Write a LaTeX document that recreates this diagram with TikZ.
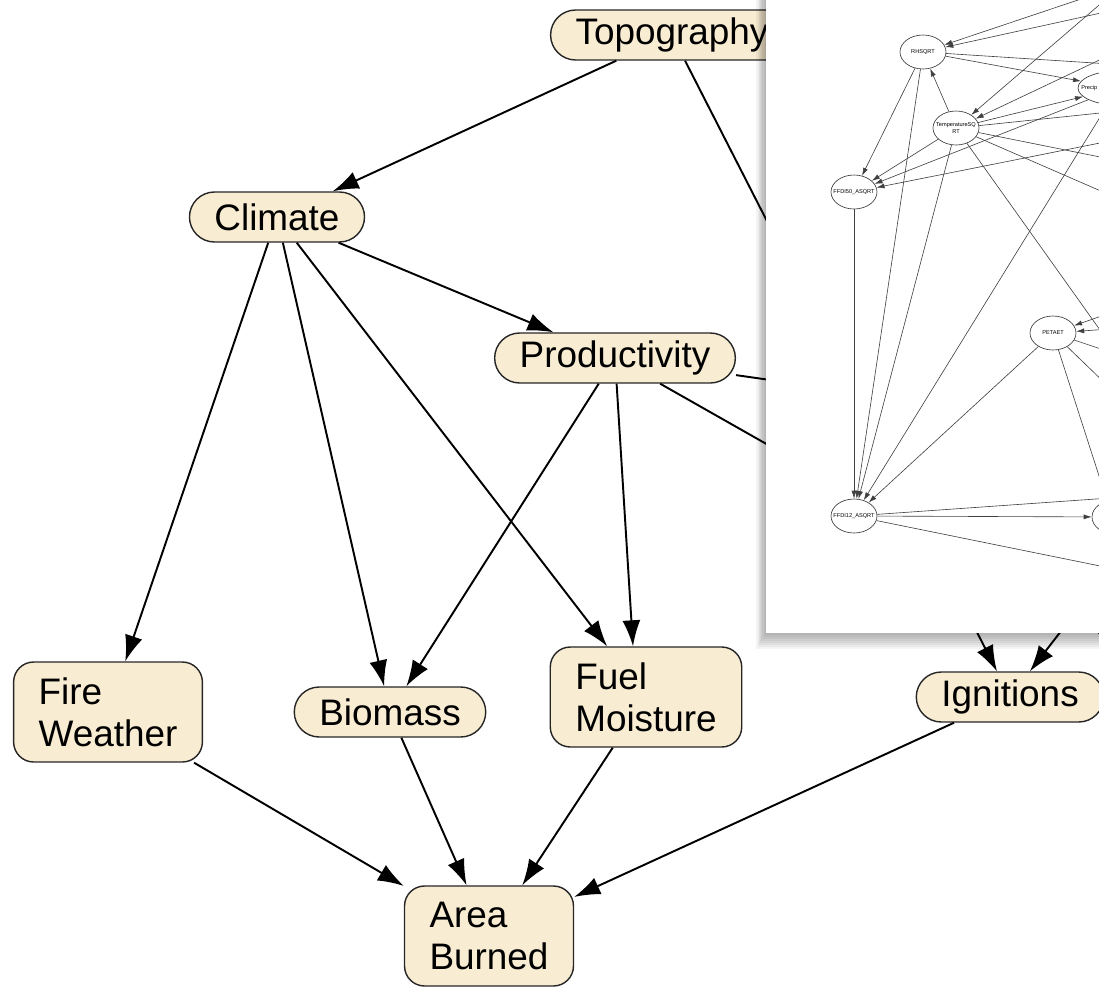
\documentclass[tikz,border=0pt]{standalone}
\usepackage{fontspec}
\setmainfont{Liberation Sans}
\usetikzlibrary{arrows.meta,shapes.geometric}

\definecolor{nodefill}{RGB}{248,236,210}

\tikzset{
  pill/.style={draw=black!85, line width=0.8pt, fill=nodefill, rounded corners=0.5cm,
    minimum height=1cm, inner xsep=0.5cm, inner ysep=0pt, font=\fontsize{21}{24}\selectfont},
  box/.style={pill, rounded corners=0.4cm, align=left, minimum height=2cm},
  link/.style={line width=1.1pt, -{Latex[length=0.52cm,width=0.36cm]}},
  gvnode/.style={draw=black!80, ellipse, line width=0.35pt, fill=white, minimum width=0.92cm,
    minimum height=0.68cm, inner xsep=-0.15cm, inner ysep=0pt, align=center,
    font=\fontsize{3.2}{3.8}\selectfont},
  gvlink/.style={line width=0.35pt, black!75, -{Latex[length=0.16cm,width=0.1cm]}},
}

\begin{document}
\begin{tikzpicture}[x=0.02cm, y=-0.02cm]
    \useasboundingbox (0,0) rectangle (1099,987);

    % === Concept model ===
    \node[pill] (topo) at (672,35) {Topography};
    \node[pill] (climate) at (277,217) {Climate};
    \node[pill] (prod) at (615,358) {Productivity};
    \node[box] (firew) at (108,712) {Fire\\Weather};
    \node[pill] (biomass) at (390,712) {Biomass};
    \node[box] (fuelm) at (646,697) {Fuel\\Moisture};
    \node[pill] (ignit) at (1010,697) {Ignitions};
    \node[box] (area) at (489,936) {Area\\Burned};

    % links that run on under the screenshot
    \coordinate (hidA) at (1300,455);
    \coordinate (hidB) at (1200,690);
    \coordinate (hidC) at (1120,555);

    \draw[link] (topo) -- (climate);
    \draw[link] (topo) -- (ignit);
    \draw[link] (climate) -- (prod);
    \draw[link] (climate) -- (firew);
    \draw[link] (climate) -- (biomass);
    \draw[link] (climate) -- (fuelm);
    \draw[link] (prod) -- (biomass);
    \draw[link] (prod) -- ([xshift=-0.26cm]fuelm.north);
    \draw[line width=1.1pt] (prod) -- (hidA);
    \draw[line width=1.1pt] (prod) -- (hidB);
    \draw[link] (hidC) -- (ignit);
    \draw[link] (firew) -- (area);
    \draw[link] (biomass) -- (area);
    \draw[link] (fuelm) -- (area);
    \draw[link] (ignit) -- (area);

    % === Screenshot of the full network (shadow, then page) ===
    \foreach \i in {1,...,8}
        \fill[black, opacity=0.045] (766-1.2*\i,-5) rectangle (1110,633+2*\i);
    \fill[white] (766,-5) rectangle (1110,633);

    \begin{scope}
    \clip (766,-5) rectangle (1110,633);
    \node[gvnode] (rh) at (923,52) {RHSQRT};
    \node[gvnode, minimum width=1.6cm] (precip) at (1118,88) {};
    \node[font=\fontsize{3.2}{3.8}\selectfont, anchor=west, inner sep=0pt] (preciptxt) at (1081,88) {Precip};
    \node[gvnode] (temp) at (956,128) {TemperatureSQ\\RT};
    \node[gvnode] (ffdi50) at (854,192) {FFDI50\_ASQRT};
    \node[gvnode] (petaet) at (1053,333) {PETAET};
    \node[gvnode] (ffdi12) at (854,516) {FFDI12\_ASQRT};
    \node[gvnode] (gvright) at (1115,517) {};

    \coordinate (g1) at (1093,-5);
    \coordinate (g2) at (1110,11);
    \coordinate (g3) at (1110,64);
    \coordinate (g4) at (1105,0);
    \coordinate (g5) at (1110,55);
    \coordinate (g6) at (1110,112);
    \coordinate (g7) at (1110,159);
    \coordinate (g8) at (1110,195);
    \coordinate (g9) at (1110,141);
    \coordinate (g10) at (1110,344);
    \coordinate (g11) at (1110,313);
    \coordinate (g12) at (1110,329);
    \coordinate (g13) at (1110,352);
    \coordinate (g14) at (1110,388);
    \coordinate (g15) at (1110,510);
    \coordinate (g16) at (1110,498);
    \coordinate (g17) at (1110,568);

    \draw[gvlink] (g1) -- (rh);
    \draw[gvlink] (g2) -- (rh);
    \draw[line width=0.35pt, black!75] (rh) -- (g3);
    \draw[gvlink] (rh) -- (precip);
    \draw[gvlink] (g4) -- (temp);
    \draw[gvlink] (g5) -- (temp);
    \draw[gvlink] (temp) -- (rh);
    \draw[gvlink] (temp) -- (precip);
    \draw[gvlink] (rh) -- (ffdi50);
    \draw[gvlink] (rh) -- (ffdi12);
    \draw[gvlink] (temp) -- (ffdi50);
    \draw[gvlink] (temp) -- (ffdi12);
    \draw[gvlink] (precip) -- (ffdi50);
    \draw[gvlink] (precip) -- (ffdi12);
    \draw[gvlink] (g9) -- (ffdi50);
    \draw[line width=0.35pt, black!75] (temp) -- (g6);
    \draw[line width=0.35pt, black!75] (temp) -- (g7);
    \draw[line width=0.35pt, black!75] (temp) -- (g8);
    \draw[line width=0.35pt, black!75] (temp) -- (g10);
    \draw[gvlink] (ffdi50) -- (ffdi12);
    \draw[gvlink] (g11) -- (petaet);
    \draw[gvlink] (g12) -- (petaet);
    \draw[line width=0.35pt, black!75] (petaet) -- (g13);
    \draw[line width=0.35pt, black!75] (petaet) -- (g14);
    \draw[line width=0.35pt, black!75] (petaet) -- (g15);
    \draw[gvlink] (petaet) -- (ffdi12);
    \draw[gvlink] (ffdi12) -- (gvright);
    \draw[line width=0.35pt, black!75] (ffdi12) -- (g16);
    \draw[line width=0.35pt, black!75] (ffdi12) -- (g17);
    \end{scope}

\end{tikzpicture}
\end{document}
